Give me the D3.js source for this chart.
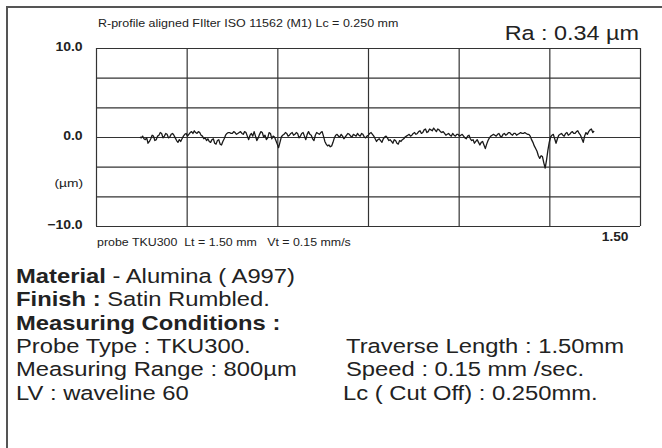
<!DOCTYPE html>
<html>
<head>
<meta charset="utf-8">
<script src="https://cdn.jsdelivr.net/npm/d3@7"></script>
<style>
  body { margin: 0; background: #fff; }
  text { font-family: "Liberation Sans", Arial, sans-serif; fill: #222; }
</style>
</head>
<body>
<div id="chart"></div>
<script>
// roughness profile, sampled every 0.00375 mm starting at 0.121 mm (values in um)
var profileStart = 0.121;
var profileStep = 0.00375;
var profileValues = [
    0.0, -0.1, 0.1, -0.2, -0.3, -0.1, -0.7, -0.5, -0.2, 0.2, 0.1, -0.4, -0.3, 0.1, 0.2, 0.5, 0.4, -0.1, 0.1, 0.4,
    0.3, -0.1, 0.0, 0.3, 0.4, 0.2, -0.1, -0.4, -0.6, -0.3, -0.5, -0.2, 0.1, 0.3, 0.4, 0.1, 0.3, 0.5, 0.6, 0.4,
    0.7, 0.5, 0.4, 0.6, 0.5, 0.2, 0.1, -0.2, -0.1, -0.4, -0.2, -0.5, -0.6, -0.3, -0.2, -0.7, -0.8, -0.4, -0.3, -0.8,
    -0.9, -0.5, -0.2, 0.2, 0.4, 0.5, 0.5, 0.4, 0.4, 0.6, 0.5, 0.3, 0.4, 0.5, 0.6, 0.4, 0.3, 0.6, 0.5, 0.1,
    -0.3, 0.2, 0.4, 0.1, 0.6, 0.1, -0.4, -0.1, 0.3, 0.6, 0.5, 0.0, 0.2, -0.3, -0.1, 0.5, 0.4, -0.2, 0.1, 0.0,
    -0.4, -0.8, -1.2, -0.6, 0.0, 0.2, 0.3, 0.5, 0.4, 0.1, 0.2, 0.4, 0.5, 0.2, 0.3, 0.5, 0.4, -0.1, 0.1, 0.4,
    0.5, 0.1, -0.3, 0.3, 0.6, 0.3, 0.2, -0.2, -0.4, 0.2, 0.5, 0.4, 0.3, 0.5, 0.6, 0.1, -0.5, -0.8, -1.0, -0.9,
    -1.1, -1.0, -0.6, -0.1, 0.2, 0.3, 0.1, 0.0, 0.3, 0.1, -0.2, 0.0, 0.2, 0.4, 0.3, 0.1, 0.0, 0.3, 0.2, 0.1,
    0.4, 0.2, 0.1, 0.4, 0.3, 0.0, -0.1, 0.1, 0.2, 0.4, 0.5, 0.3, 0.1, -0.2, -0.5, -0.3, -0.2, -0.4, -0.6, -0.2,
    0.0, 0.1, -0.1, -0.4, -0.3, -0.5, -0.7, -0.3, -0.4, -0.7, -0.8, -0.4, -0.5, -0.3, -0.2, 0.0, 0.1, 0.2, 0.3, 0.1,
    0.2, 0.4, 0.5, 0.3, 0.4, 0.6, 0.7, 0.4, 0.5, 0.8, 0.9, 0.5, 0.6, 0.9, 0.8, 0.7, 1.0, 0.8, 0.6, 0.9,
    0.8, 0.6, 0.5, 0.6, 0.4, 0.2, 0.3, 0.4, 0.2, 0.1, 0.4, 0.2, 0.1, 0.3, 0.3, 0.1, 0.2, 0.3, 0.1, -0.1,
    -0.2, 0.1, 0.2, -0.2, -0.4, -0.3, -0.7, -0.5, -0.3, -0.6, -0.9, -0.6, -0.5, -0.9, -1.3, -0.8, -0.4, -0.1, 0.1, 0.2,
    0.3, 0.2, 0.1, 0.3, 0.4, 0.1, 0.0, 0.3, 0.4, 0.2, 0.3, 0.5, 0.5, 0.3, 0.2, 0.4, 0.4, 0.2, 0.3, 0.4,
    0.5, 0.4, 0.4, 0.5, 0.4, 0.3, 0.3, 0.1, -0.3, -0.6, -1.0, -1.3, -1.6, -2.1, -2.4, -2.1, -2.2, -2.9, -3.5, -2.6,
    -1.5, -0.6, 0.0, 0.2, 0.3, -0.2, -0.7, -0.2, 0.2, 0.3, 0.4, 0.2, 0.1, 0.4, 0.5, 0.2, 0.3, 0.5, 0.6, 0.4,
    0.4, 0.6, 0.7, 0.4, 0.2, -0.2, -0.6, 0.1, 0.5, 0.3, 0.6, 0.8, 0.9, 0.5, 0.7
];

var yTicks = [-10, 0, 10];
var xTicks = [1.5];
var xDomain = [0, 1.5];
var yDomain = [-10, 10];
var gridCols = 6;
var gridRows = 6;

var headerText = "R-profile aligned FIlter ISO 11562 (M1) Lc = 0.250 mm";
var raText = "Ra : 0.34 \u00b5m";
var footText = "probe TKU300  Lt = 1.50 mm   Vt = 0.15 mm/s";

var leftLines = [
    [["Material", true], [" - Alumina ( A997)", false]],
    [["Finish :", true], [" Satin Rumbled.", false]],
    [["Measuring Conditions :", true]],
    [["Probe Type : TKU300.", false]],
    [["Measuring Range : 800\u00b5m", false]],
    [["LV : waveline 60", false]]
];
var rightLines = [
    "Traverse Length : 1.50mm",
    "Speed : 0.15 mm /sec.",
    "Lc ( Cut Off) : 0.250mm."
];

var svgWidth = 662;
var svgHeight = 448;
var plot = { left: 96, top: 48, width: 544, height: 178 };

var svg = d3.select("#chart").append("svg")
            .attr("width", svgWidth)
            .attr("height", svgHeight);

// outer frame (only left and top edges fall inside the picture)
svg.append("rect")
   .attr("x", 7).attr("y", 7)
   .attr("width", 800).attr("height", 600)
   .attr("fill", "none")
   .attr("stroke", "#555")
   .attr("stroke-width", 2);

// the original print is a bit wider than tall, so text gets stretched
function addText(parent, x, y, size, sx, str) {
    return parent.append("text")
                 .attr("transform", `translate(${x}, ${y}) scale(${sx}, 1)`)
                 .attr("font-size", size)
                 .style("white-space", "pre")
                 .text(str);
}

var xScale = d3.scaleLinear().domain(xDomain).range([0, plot.width]);
var yScale = d3.scaleLinear().domain(yDomain).range([plot.height, 0]);

var chartGroup = svg.append("g")
                    .attr("transform", `translate(${plot.left}, ${plot.top})`);

// grid
var xGrid = d3.range(gridCols + 1).map(i => xDomain[0] + i * (xDomain[1] - xDomain[0]) / gridCols);
var yGrid = d3.range(gridRows + 1).map(i => yDomain[0] + i * (yDomain[1] - yDomain[0]) / gridRows);

chartGroup.append("g")
          .attr("transform", `translate(0, ${plot.height})`)
          .call(d3.axisBottom(xScale).tickValues(xGrid).tickSize(-plot.height).tickFormat(""))
          .call(g => g.select(".domain").remove())
          .selectAll("line").attr("stroke", "#333").attr("stroke-width", 1.2);

chartGroup.append("g")
          .call(d3.axisLeft(yScale).tickValues(yGrid).tickSize(-plot.width).tickFormat(""))
          .call(g => g.select(".domain").remove())
          .selectAll("line").attr("stroke", "#333").attr("stroke-width", 1.2);

// y labels
var leftAxis = chartGroup.append("g")
          .attr("transform", "translate(-10, 0)")
          .call(d3.axisLeft(yScale).tickValues(yTicks).tickSize(0).tickFormat(d3.format(".1f")));
leftAxis.select(".domain").remove();
leftAxis.selectAll("text")
        .attr("font-family", "Liberation Sans, Arial, sans-serif")
        .attr("font-size", 12.5)
        .attr("font-weight", "bold")
        .attr("fill", "#222")
        .attr("transform", "scale(1.12, 1)")
        .attr("dy", "0.2em");

addText(chartGroup, -13, yScale(-5.6), 11.5, 1.2, "(\u00b5m)")
       .attr("text-anchor", "end");

// x label at the end
var bottomAxis = chartGroup.append("g")
          .attr("transform", `translate(-12, ${plot.height})`)
          .call(d3.axisBottom(xScale).tickValues(xTicks).tickSize(0).tickFormat(d3.format(".2f")));
bottomAxis.select(".domain").remove();
bottomAxis.selectAll("text")
          .attr("font-family", "Liberation Sans, Arial, sans-serif")
          .attr("font-size", 12.5)
          .attr("font-weight", "bold")
          .attr("fill", "#222")
          .attr("text-anchor", "end")
          .attr("transform", "scale(1.1, 1)")
          .attr("dy", "1.0em");

// profile
var profile = profileValues.map((v, i) => ({ x: profileStart + i * profileStep, y: v }));
var line = d3.line().x(d => xScale(d.x)).y(d => yScale(d.y));
chartGroup.append("path")
          .datum(profile)
          .attr("d", line)
          .attr("fill", "none")
          .attr("stroke", "#1a1a1a")
          .attr("stroke-width", 1.3)
          .attr("stroke-linejoin", "round");

// texts
addText(svg, 98, 27, 10, 1.25, headerText);
addText(svg, 639, 40, 19.5, 1.2, raText).attr("text-anchor", "end");
addText(svg, 97, 246, 10, 1.24, footText);

var lineGap = 23.3;
leftLines.forEach((parts, i) => {
    var t = addText(svg, 16, 283 + i * lineGap, 19.5, 1.22, "");
    parts.forEach(p => {
        t.append("tspan").attr("font-weight", p[1] ? "bold" : "normal").text(p[0]);
    });
});
rightLines.forEach((s, i) => {
    addText(svg, i == 2 ? 343 : 346, 283 + (i + 3) * lineGap, 19.5, 1.22, s);
});
</script>
</body>
</html>
